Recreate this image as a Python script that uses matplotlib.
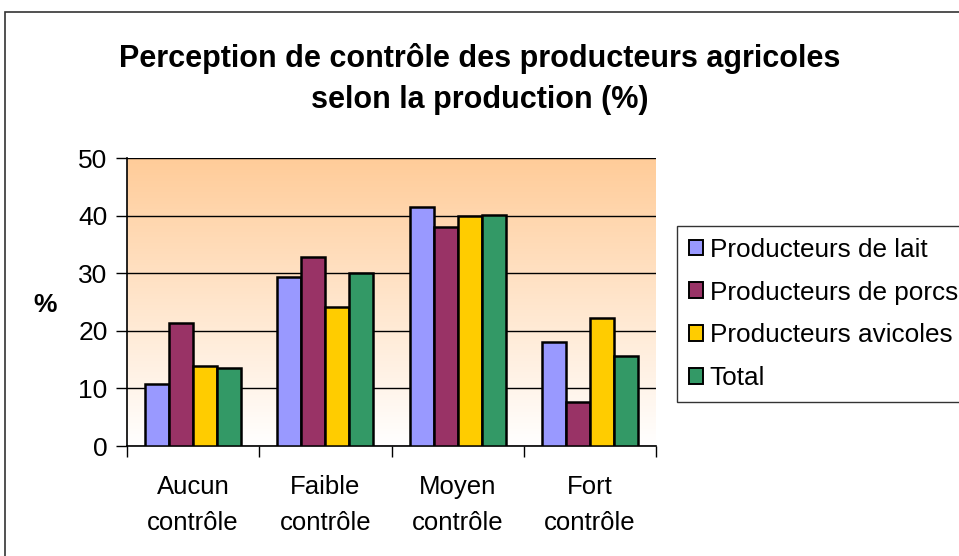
import numpy as np
import matplotlib
matplotlib.use('Agg')
import matplotlib.pyplot as plt
from matplotlib.colors import LinearSegmentedColormap
from matplotlib.patches import Rectangle

# %% Data
categories = ['Aucun\ncontrôle', 'Faible\ncontrôle', 'Moyen\ncontrôle', 'Fort\ncontrôle']
series_names = ['Producteurs de lait', 'Producteurs de porcs',
                'Producteurs avicoles', 'Total']
lait = [10.8, 29.3, 41.5, 18.1]
porcs = [21.3, 32.8, 38.1, 7.7]
avicoles = [13.9, 24.1, 39.9, 22.3]
total = [13.6, 30.0, 40.1, 15.6]
colors = ['#9999FF', '#993366', '#FFCC00', '#339966']

plt.rcParams['font.family'] = ['Liberation Sans', 'DejaVu Sans']

W, H = 959, 556
fig = plt.figure(figsize=(W / 100, H / 100), dpi=100)

# outer chart frame (runs off the right and bottom edges)
fig.patches.append(Rectangle((5 / W, -0.1), 1.2, 1 - 12 / H + 0.1,
                             transform=fig.transFigure, fill=False,
                             edgecolor='#333333', linewidth=1.2))

ax = fig.add_axes([127 / W, (H - 446) / H, 529 / W, 288 / H])

# gradient background, white at the bottom to peach at the top
cmap = LinearSegmentedColormap.from_list('bg', ['#FFFFFF', '#FFCC99'])
grad = np.linspace(0, 1, 256).reshape(-1, 1)
ax.imshow(grad, cmap=cmap, aspect='auto', origin='lower',
          extent=[0, 1, 0, 1], transform=ax.transAxes, zorder=0)

x = np.arange(len(categories))
n = len(series_names)
bw = 1 / (n + 1.5)
for i, (vals, col, name) in enumerate(zip([lait, porcs, avicoles, total],
                                          colors, series_names)):
    ax.bar(x - 2 * bw + (i + 0.5) * bw, vals, width=bw, color=col,
           edgecolor='black', linewidth=1.8, label=name, zorder=3)

ax.set_xlim(-0.5, len(categories) - 0.5)
ax.set_ylim(0, 50)
ax.set_yticks(range(0, 51, 10))
ax.yaxis.grid(True, color='black', linewidth=1.0, zorder=1)
ax.set_axisbelow(True)

ax.set_xticks(x)
ax.set_xticklabels(categories, fontsize=18.5, linespacing=1.6)
ax.set_xticks(np.arange(-0.5, len(categories)), minor=True)
ax.tick_params(axis='x', which='major', length=0, pad=21)
ax.tick_params(axis='x', which='minor', length=8, width=1, direction='out')
ax.tick_params(axis='y', length=8, width=1, direction='out', labelsize=19, pad=6)

for side in ['top', 'right']:
    ax.spines[side].set_visible(False)
ax.spines['left'].set_linewidth(1.2)
ax.spines['bottom'].set_linewidth(1.2)

ax.set_ylabel('%', rotation=0, fontsize=19, fontweight='bold', labelpad=20,
              va='center')
ax.yaxis.set_label_coords(-0.155, 0.49)

fig.text(480 / W, 1 - 79 / H,
         'Perception de contrôle des producteurs agricoles\nselon la production (%)',
         ha='center', va='center', fontsize=22, fontweight='bold',
         linespacing=1.5)

leg = fig.legend(loc='upper left', bbox_to_anchor=(677 / W, 1 - 226 / H),
                 fontsize=18.8, frameon=True, fancybox=False,
                 handlelength=0.55, handleheight=0.55, handletextpad=0.25,
                 labelspacing=0.72, borderpad=0.45, borderaxespad=0)
leg.get_frame().set_edgecolor('black')
leg.get_frame().set_linewidth(1.0)
for h in leg.legend_handles:
    h.set_linewidth(1.4)

fig.savefig('out.png', dpi=100)
